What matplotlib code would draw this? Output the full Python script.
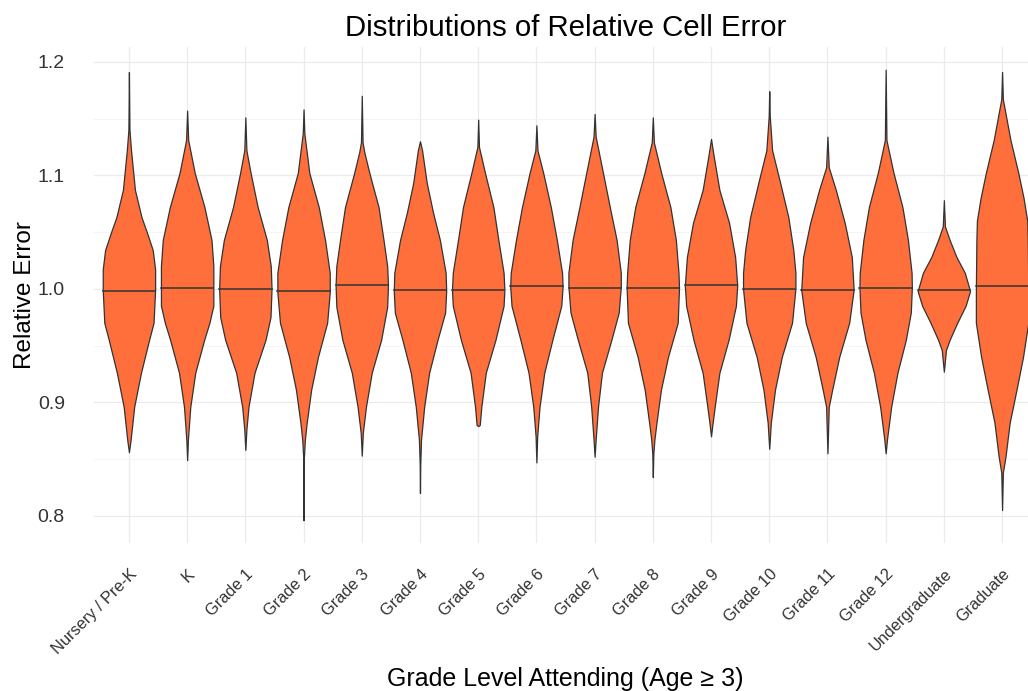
import numpy as np
import matplotlib
matplotlib.use("Agg")
import matplotlib.pyplot as plt

plt.rcParams['font.family'] = ['Liberation Sans', 'DejaVu Sans']

# grade levels (x categories)
categories = ['Nursery / Pre-K', 'K', 'Grade 1', 'Grade 2', 'Grade 3', 'Grade 4',
              'Grade 5', 'Grade 6', 'Grade 7', 'Grade 8', 'Grade 9', 'Grade 10',
              'Grade 11', 'Grade 12', 'Undergraduate', 'Graduate']

# median relative error per group
medians = [0.998, 1.001, 1.000, 0.998, 1.003, 0.999, 0.999, 1.002,
           1.001, 1.001, 1.003, 1.000, 0.999, 1.001, 0.999, 1.002]

# violin outlines: relative error levels and density (scaled to 1)
profile_y = [
    [0.856, 0.867, 0.896, 0.926, 0.955, 0.970, 0.999, 1.017, 1.034, 1.050, 1.063, 1.087, 1.122, 1.140, 1.191],
    [0.849, 0.867, 0.896, 0.926, 0.955, 0.970, 0.985, 1.001, 1.020, 1.043, 1.072, 1.102, 1.131, 1.157],
    [0.858, 0.876, 0.896, 0.926, 0.955, 0.975, 1.000, 1.020, 1.043, 1.072, 1.102, 1.122, 1.151],
    [0.796, 0.850, 0.867, 0.882, 0.911, 0.940, 0.970, 0.997, 1.014, 1.043, 1.072, 1.102, 1.137, 1.158],
    [0.853, 0.873, 0.896, 0.926, 0.955, 0.984, 1.003, 1.020, 1.043, 1.072, 1.102, 1.120, 1.129, 1.170],
    [0.820, 0.845, 0.867, 0.896, 0.926, 0.955, 0.979, 0.998, 1.014, 1.043, 1.067, 1.093, 1.122, 1.130],
    [0.879, 0.880, 0.896, 0.926, 0.955, 0.985, 0.999, 1.014, 1.043, 1.072, 1.102, 1.125, 1.149],
    [0.847, 0.870, 0.896, 0.926, 0.955, 0.985, 1.002, 1.014, 1.043, 1.072, 1.102, 1.122, 1.144],
    [0.852, 0.867, 0.896, 0.926, 0.955, 0.979, 1.002, 1.014, 1.043, 1.072, 1.102, 1.134, 1.154],
    [0.834, 0.855, 0.867, 0.882, 0.911, 0.940, 0.970, 1.001, 1.014, 1.043, 1.072, 1.102, 1.129, 1.151],
    [0.870, 0.880, 0.896, 0.926, 0.955, 0.985, 1.003, 1.028, 1.058, 1.087, 1.117, 1.132],
    [0.859, 0.882, 0.911, 0.940, 0.970, 1.000, 1.014, 1.034, 1.063, 1.093, 1.122, 1.152, 1.174],
    [0.855, 0.896, 0.911, 0.940, 0.970, 0.999, 1.028, 1.058, 1.087, 1.107, 1.134],
    [0.855, 0.867, 0.896, 0.926, 0.955, 0.979, 1.001, 1.014, 1.043, 1.072, 1.102, 1.131, 1.193],
    [0.927, 0.946, 0.955, 0.970, 0.985, 0.998, 1.014, 1.028, 1.043, 1.055, 1.078],
    [0.805, 0.838, 0.852, 0.882, 0.911, 0.940, 0.970, 1.000, 1.043, 1.060, 1.080, 1.102, 1.131, 1.167, 1.191],
]
profile_w = [
    [0.0, 0.065, 0.20, 0.46, 0.77, 0.94, 1.0, 1.0, 0.91, 0.68, 0.48, 0.23, 0.08, 0.02, 0.0],
    [0.0, 0.03, 0.12, 0.31, 0.65, 0.85, 1.0, 1.0, 1.0, 0.93, 0.66, 0.29, 0.04, 0.0],
    [0.0, 0.04, 0.12, 0.35, 0.77, 0.96, 1.0, 0.97, 0.82, 0.47, 0.20, 0.04, 0.0],
    [0.0, 0.01, 0.05, 0.12, 0.29, 0.55, 0.90, 1.0, 1.0, 0.82, 0.58, 0.22, 0.03, 0.0],
    [0.0, 0.04, 0.16, 0.38, 0.74, 0.97, 1.0, 0.97, 0.83, 0.64, 0.29, 0.10, 0.03, 0.0],
    [0.0, 0.01, 0.04, 0.16, 0.35, 0.67, 0.96, 1.0, 0.98, 0.76, 0.50, 0.26, 0.08, 0.0],
    [0.0, 0.06, 0.12, 0.29, 0.66, 0.97, 1.0, 0.97, 0.77, 0.58, 0.26, 0.03, 0.0],
    [0.0, 0.03, 0.12, 0.30, 0.61, 0.95, 1.0, 0.98, 0.78, 0.55, 0.26, 0.04, 0.0],
    [0.0, 0.04, 0.13, 0.28, 0.64, 0.92, 1.0, 1.0, 0.84, 0.58, 0.32, 0.04, 0.0],
    [0.0, 0.02, 0.06, 0.14, 0.31, 0.58, 0.95, 1.0, 0.98, 0.88, 0.67, 0.32, 0.04, 0.0],
    [0.0, 0.05, 0.14, 0.32, 0.67, 0.95, 1.0, 0.92, 0.69, 0.32, 0.10, 0.0],
    [0.0, 0.06, 0.22, 0.48, 0.87, 1.0, 1.0, 0.92, 0.73, 0.42, 0.11, 0.02, 0.0],
    [0.0, 0.05, 0.18, 0.45, 0.83, 1.0, 0.93, 0.66, 0.32, 0.05, 0.0],
    [0.0, 0.05, 0.21, 0.45, 0.77, 0.96, 1.0, 0.99, 0.85, 0.64, 0.30, 0.03, 0.0],
    [0.0, 0.08, 0.22, 0.51, 0.83, 1.0, 0.80, 0.48, 0.22, 0.04, 0.0],
    [0.0, 0.03, 0.13, 0.29, 0.55, 0.80, 1.0, 1.0, 0.98, 0.96, 0.82, 0.62, 0.32, 0.03, 0.0],
]

fill_color = '#FF6F3C'
edge_color = '#333333'

fig = plt.figure(figsize=(10.28, 6.91), dpi=100)
ax = fig.add_axes([94 / 1028, 1 - 543 / 691, 943 / 1028, 496 / 691])

positions = np.arange(len(categories))
stats = []
for ys, ws, med in zip(profile_y, profile_w, medians):
    ys = np.array(ys)
    ws = np.array(ws)
    stats.append({'coords': ys, 'vals': ws, 'mean': med, 'median': med,
                  'min': ys.min(), 'max': ys.max()})

parts = ax.violin(stats, positions=positions, widths=0.9,
                  showmeans=False, showextrema=False, showmedians=False)
for body in parts['bodies']:
    body.set_facecolor(fill_color)
    body.set_edgecolor(edge_color)
    body.set_linewidth(0.9)
    body.set_alpha(1)
    body.set_zorder(3)

# median line across the violin at its width
for pos, ys, ws, med in zip(positions, profile_y, profile_w, medians):
    half = np.interp(med, ys, ws) / max(ws) * 0.45
    ax.plot([pos - half, pos + half], [med, med], color=edge_color, lw=1.1, zorder=4)

ax.set_xlim(-0.6, len(categories) - 0.4)
ax.set_ylim(0.776, 1.213)
ax.set_yticks([0.8, 0.9, 1.0, 1.1, 1.2])
ax.set_yticks([0.85, 0.95, 1.05, 1.15], minor=True)
ax.set_xticks(positions)
ax.set_xticklabels(categories, rotation=45, ha='right', va='top',
                   rotation_mode='anchor', fontsize=11.8, color='#333333')
ax.tick_params(axis='x', length=0, pad=17)
ax.tick_params(axis='y', which='both', length=0, pad=21, labelsize=14, labelcolor='#333333')

ax.grid(True, which='major', color='#ebebeb', lw=0.9, zorder=0)
ax.grid(True, which='minor', axis='y', color='#f3f3f3', lw=0.6, zorder=0)
ax.set_axisbelow(True)
for s in ax.spines.values():
    s.set_visible(False)

ax.set_title('Distributions of Relative Cell Error', fontsize=21.2, pad=8)
ax.set_ylabel('Relative Error', fontsize=17.5)
ax.set_xlabel('Grade Level Attending (Age \u2265 3)', fontsize=18)
ax.yaxis.set_label_coords(-0.062, 0.5)
ax.xaxis.set_label_coords(0.5, -0.25)

fig.savefig('out.png', dpi=100)
